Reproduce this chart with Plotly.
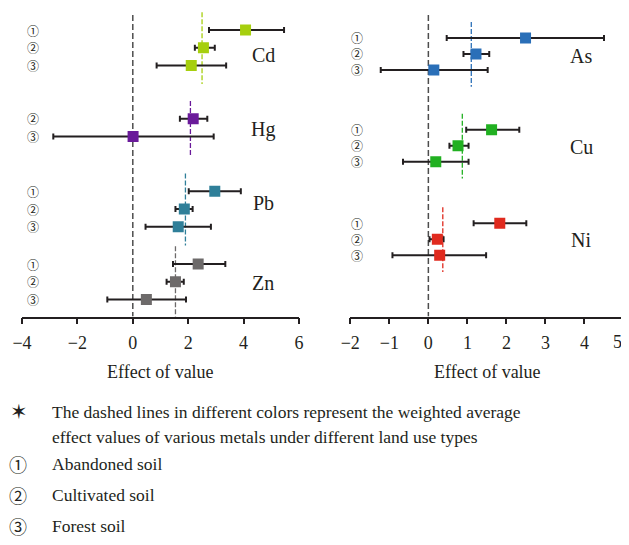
import plotly.graph_objects as go

# page is 629x545; the browser body has an 8px margin, so the figure is drawn 8px in
PAGE_W, PAGE_H = 629, 545
OFF = 8
W, H = PAGE_W - OFF, PAGE_H - OFF

# ---------------- data ----------------
left_metals = ["Cd", "Hg", "Pb", "Zn"]
right_metals = ["As", "Cu", "Ni"]
land_use = ["Abandoned soil", "Cultivated soil", "Forest soil"]
row_labels = ["①", "②", "③"]

# effect value, lower CI, upper CI for ① ② ③ (None = not available)
cd_eff = [4.07, 2.55, 2.11]
cd_lo = [2.75, 2.24, 0.86]
cd_hi = [5.46, 2.96, 3.37]

hg_eff = [None, 2.18, 0.01]
hg_lo = [None, 1.70, -2.87]
hg_hi = [None, 2.69, 2.92]

pb_eff = [2.96, 1.86, 1.64]
pb_lo = [2.02, 1.54, 0.46]
pb_hi = [3.90, 2.16, 2.82]

zn_eff = [2.36, 1.54, 0.49]
zn_lo = [1.45, 1.22, -0.92]
zn_hi = [3.34, 1.84, 1.92]

as_eff = [2.49, 1.22, 0.14]
as_lo = [0.47, 0.90, -1.22]
as_hi = [4.50, 1.56, 1.52]

cu_eff = [1.62, 0.76, 0.19]
cu_lo = [0.97, 0.54, -0.65]
cu_hi = [2.33, 1.03, 1.03]

ni_eff = [1.83, 0.23, 0.29]
ni_lo = [1.16, 0.03, -0.92]
ni_hi = [2.51, 0.39, 1.48]

# weighted average effect values (coloured dashed lines)
left_weighted = [2.50, 2.08, 1.90, 1.54]
right_weighted = [1.10, 0.87, 0.37]

left_ticks = [-4, -2, 0, 2, 4, 6]
right_ticks = [-2, -1, 0, 1, 2, 3, 4, 5]

# ---------------- styling / layout ----------------
left_colors = ["#a6cf0e", "#6a1a9a", "#2f7f99", "#6d6a6a"]
right_colors = ["#2a6fb8", "#21b021", "#e02a1e"]
left_group_start = [0.0, 4.0, 9.1, 13.2]   # in row units
right_group_start = [0.0, 5.75, 11.6]
left_range = [16.16, -1.13]
right_range = [17.44, -1.75]

SERIF = "Liberation Serif, Times New Roman, serif"
CIRC = "Noto Sans CJK JP, DejaVu Sans"
INK = "#231f20"

left_data = [(cd_eff, cd_lo, cd_hi), (hg_eff, hg_lo, hg_hi),
             (pb_eff, pb_lo, pb_hi), (zn_eff, zn_lo, zn_hi)]
right_data = [(as_eff, as_lo, as_hi), (cu_eff, cu_lo, cu_hi), (ni_eff, ni_lo, ni_hi)]

fig = go.Figure()
annotations = []


def px(x):
    """page pixel x -> paper fraction"""
    return (x - OFF) / W


def py(y):
    """page pixel y -> paper fraction"""
    return 1 - (y - OFF) / H


def fmt(v):
    return ("\u2212" + str(abs(v))) if v < 0 else str(v)


def add_panel(data, weighted, colors, starts, xa, ya, bottom, zero_top, label_x, names, name_pos):
    # zero reference line
    fig.add_trace(go.Scatter(x=[0, 0], y=[zero_top, bottom], mode="lines",
                             line=dict(color="#4d4d4d", width=1.5, dash="6px,3px"),
                             xaxis=xa, yaxis=ya, showlegend=False, hoverinfo="skip"))
    for g, ((eff, lo, hi), w, col, s) in enumerate(zip(data, weighted, colors, starts)):
        rows = [s + r for r in range(3) if eff[r] is not None]
        xs = [e for e in eff if e is not None]
        plus = [h - e for e, h in zip(eff, hi) if e is not None]
        minus = [e - l for e, l in zip(eff, lo) if e is not None]
        first = min(rows)
        # weighted average line
        fig.add_trace(go.Scatter(x=[w, w], y=[first - 1.0, s + 3.05], mode="lines",
                                 line=dict(color=col, width=1.3, dash="5px,2px"),
                                 xaxis=xa, yaxis=ya, showlegend=False, hoverinfo="skip"))
        fig.add_trace(go.Scatter(
            x=xs, y=rows, mode="markers",
            marker=dict(symbol="square", size=11, color=col, line=dict(width=0)),
            error_x=dict(type="data", symmetric=False, array=plus, arrayminus=minus,
                         color=INK, thickness=2, width=3),
            xaxis=xa, yaxis=ya, showlegend=False))
        for r in range(3):
            if eff[r] is not None:
                annotations.append(dict(x=label_x, xref="paper", y=s + r, yref=ya,
                                        text=row_labels[r], showarrow=False,
                                        font=dict(family=CIRC, size=12, color=INK),
                                        xanchor="center", yanchor="middle"))
        annotations.append(dict(x=name_pos[g][0], y=name_pos[g][1], xref="paper", yref="paper",
                                text=names[g], showarrow=False,
                                font=dict(family=SERIF, size=20, color=INK),
                                xanchor="center", yanchor="middle"))


add_panel(left_data, left_weighted, left_colors, left_group_start, "x", "y",
          left_range[0], -0.85, px(33), left_metals,
          [(px(263), py(55)), (px(263), py(130)), (px(263), py(203)), (px(263), py(283))])
add_panel(right_data, right_weighted, right_colors, right_group_start, "x2", "y2",
          right_range[0], -1.44, px(357), right_metals,
          [(px(581), py(56)), (px(581), py(147)), (px(581), py(240))])

# axis titles
for cx in [160.5, 487.3]:
    annotations.append(dict(x=px(cx), y=py(372), xref="paper", yref="paper",
                            text="Effect of value", showarrow=False,
                            font=dict(family=SERIF, size=18, color=INK),
                            xanchor="center", yanchor="middle"))

# last right-hand tick label sits at the very edge: draw it nudged inward
annotations.append(dict(x=right_ticks[-1], xref="x2", y=py(342), yref="paper",
                        text=fmt(right_ticks[-1]), showarrow=False, xshift=-6,
                        font=dict(family=SERIF, size=18, color=INK),
                        xanchor="center", yanchor="middle"))

# bottom key
annotations.append(dict(x=px(19), y=py(412), xref="paper", yref="paper", text="✶",
                        showarrow=False, font=dict(family="DejaVu Sans", size=21, color=INK),
                        xanchor="center", yanchor="middle"))
annotations.append(dict(x=px(50), y=py(412), xref="paper", yref="paper",
                        text="The dashed lines in different colors represent the weighted average",
                        showarrow=False, font=dict(family=SERIF, size=17.5, color=INK),
                        xanchor="left", yanchor="middle"))
annotations.append(dict(x=px(50), y=py(437), xref="paper", yref="paper",
                        text="effect values of various metals under different land use types",
                        showarrow=False, font=dict(family=SERIF, size=17.5, color=INK),
                        xanchor="left", yanchor="middle"))
for i, (lab, name) in enumerate(zip(row_labels, land_use)):
    yy = [464, 495, 526][i]
    annotations.append(dict(x=px(18), y=py(yy), xref="paper", yref="paper", text=lab,
                            showarrow=False, font=dict(family=CIRC, size=18, color=INK),
                            xanchor="center", yanchor="middle"))
    annotations.append(dict(x=px(50), y=py(yy), xref="paper", yref="paper", text=name,
                            showarrow=False, font=dict(family=SERIF, size=17.5, color=INK),
                            xanchor="left", yanchor="middle"))

axis_common = dict(showline=True, linecolor=INK, linewidth=1.5, ticks="outside",
                   ticklen=6, tickwidth=1.5, tickcolor=INK, showgrid=False, zeroline=False,
                   tickfont=dict(family=SERIF, size=18, color=INK), ticklabelstandoff=3,
                   fixedrange=True, automargin=False)
ydom = [py(316.5), py(10)]

fig.update_layout(
    width=W, height=H, margin=dict(l=0, r=0, t=0, b=0, autoexpand=False),
    paper_bgcolor="white", plot_bgcolor="white", showlegend=False,
    xaxis=dict(domain=[px(22), px(299)], range=[-4, 6], tickvals=left_ticks, anchor="y",
               **axis_common),
    yaxis=dict(domain=ydom, range=left_range, visible=False, fixedrange=True, automargin=False),
    xaxis2=dict(domain=[px(350.3), px(623.5)], range=[-2, 5], tickvals=right_ticks,
                ticktext=[fmt(t) for t in right_ticks[:-1]] + [""], anchor="y2",
                **axis_common),
    yaxis2=dict(domain=ydom, range=right_range, visible=False, fixedrange=True, automargin=False),
    annotations=annotations,
)

fig.write_html("out.html")
